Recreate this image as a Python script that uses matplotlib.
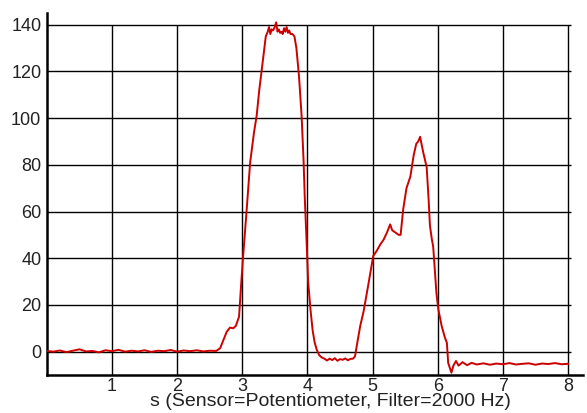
import matplotlib.pyplot as plt

plt.rcParams["font.family"] = ["Liberation Sans", "DejaVu Sans"]

# signal (time in s, value)
t_base = [0.0, 0.1, 0.2, 0.3, 0.4, 0.5, 0.6, 0.7, 0.8, 0.9, 1.0, 1.1, 1.2, 1.3,
          1.4, 1.5, 1.6, 1.7, 1.8, 1.9, 2.0, 2.1, 2.2, 2.3, 2.4, 2.5, 2.6]
v_base = [0.3, 0.0, 0.5, -0.2, 0.4, 1.0, 0.1, 0.3, -0.3, 0.6, 0.2, 0.8, 0.0, 0.4,
          0.1, 0.6, -0.1, 0.4, 0.2, 0.7, 0.0, 0.5, 0.2, 0.6, 0.1, 0.4, 0.3]

t_peak1 = [2.66, 2.71, 2.76, 2.81, 2.86, 2.90, 2.95, 2.98, 3.01, 3.07, 3.12, 3.18,
           3.22, 3.26, 3.30, 3.33, 3.36, 3.39, 3.41, 3.43, 3.45, 3.47, 3.49, 3.52,
           3.54, 3.56, 3.58, 3.60, 3.62, 3.64, 3.66, 3.68, 3.70, 3.72, 3.74, 3.77,
           3.80, 3.83, 3.87, 3.91, 3.94, 3.96, 3.99, 4.01, 4.05, 4.08, 4.11, 4.14]
v_peak1 = [1.5, 5.0, 8.5, 10.3, 10.0, 11.0, 15.0, 28.0, 40.0, 62.0, 81.0, 94.0,
           101.0, 112.0, 121.0, 128.0, 135.0, 137.0, 139.0, 136.0, 138.0, 137.5, 138.5, 141.0,
           137.0, 138.0, 136.5, 137.0, 136.0, 138.5, 137.0, 139.0, 136.5, 137.5, 136.0, 136.0,
           135.0, 130.0, 118.0, 101.0, 82.0, 65.0, 45.0, 30.0, 17.0, 9.0, 4.0, 1.0]

t_trough = [4.18, 4.22, 4.26, 4.30, 4.34, 4.38, 4.42, 4.46, 4.50, 4.54, 4.58,
            4.62, 4.66, 4.70, 4.73]
v_trough = [-1.5, -2.5, -3.0, -3.8, -3.0, -3.6, -2.8, -3.9, -3.2, -3.5, -2.9,
            -3.7, -3.1, -3.0, -2.0]

t_peak2 = [4.76, 4.81, 4.86, 4.93, 5.01, 5.06, 5.12, 5.17, 5.22, 5.27, 5.30, 5.35,
           5.40, 5.43, 5.47, 5.52, 5.58, 5.63, 5.67, 5.70, 5.73, 5.75, 5.78, 5.83,
           5.86, 5.88, 5.91, 5.93, 5.98, 6.01, 6.06, 6.11, 6.14, 6.16, 6.21, 6.24]
v_peak2 = [3.0, 11.0, 17.0, 28.0, 41.0, 43.0, 46.0, 48.0, 51.0, 54.5, 52.0, 51.0,
           50.0, 50.0, 61.0, 70.0, 75.0, 84.0, 89.0, 90.0, 92.0, 89.0, 85.0, 79.0,
           65.0, 54.0, 48.0, 45.0, 25.0, 18.0, 11.0, 6.0, 3.8, -4.8, -9.0, -6.0]

t_tail = [6.28, 6.32, 6.38, 6.45, 6.52, 6.6, 6.7, 6.8, 6.9, 7.0, 7.1, 7.2, 7.3,
          7.4, 7.5, 7.6, 7.7, 7.8, 7.9, 8.0]
v_tail = [-4.0, -6.0, -4.5, -5.8, -4.8, -5.5, -5.0, -5.6, -5.1, -5.4, -4.9, -5.5,
          -5.2, -5.0, -5.6, -5.1, -5.3, -4.9, -5.4, -5.2]

t = t_base + t_peak1 + t_trough + t_peak2 + t_tail
v = v_base + v_peak1 + v_trough + v_peak2 + v_tail

x_ticks = [1, 2, 3, 4, 5, 6, 7, 8]
y_ticks = [0, 20, 40, 60, 80, 100, 120, 140]

fig = plt.figure(figsize=(5.87, 4.13), dpi=100)
ax = fig.add_axes([0.0799, 0.092, 0.9133, 0.8765])

# grid drawn by hand so it stops at 8 / 140 like the original
ax.hlines(y_ticks, 0, 8.05, color="black", linewidth=1.0, zorder=1)
ax.vlines(x_ticks, -10, 140, color="black", linewidth=1.0, zorder=1)

ax.plot(t, v, color="#cc0000", linewidth=1.4, zorder=3)

ax.set_xlim(0, 8.23)
ax.set_ylim(-10, 145)
ax.set_xticks(x_ticks)
ax.set_yticks(y_ticks)
ax.tick_params(length=0, labelsize=13, colors="#222222")
ax.tick_params(axis="x", pad=2)
ax.tick_params(axis="y", pad=4)

for side in ["top", "right"]:
    ax.spines[side].set_visible(False)
for side in ["left", "bottom"]:
    ax.spines[side].set_linewidth(1.8)

ax.set_xlabel("s (Sensor=Potentiometer, Filter=2000 Hz)", fontsize=14,
              color="#222222")
ax.xaxis.set_label_coords(0.528, -0.05, transform=ax.transAxes)
ax.xaxis.label.set_va("top")

fig.savefig("out.png", dpi=100)
